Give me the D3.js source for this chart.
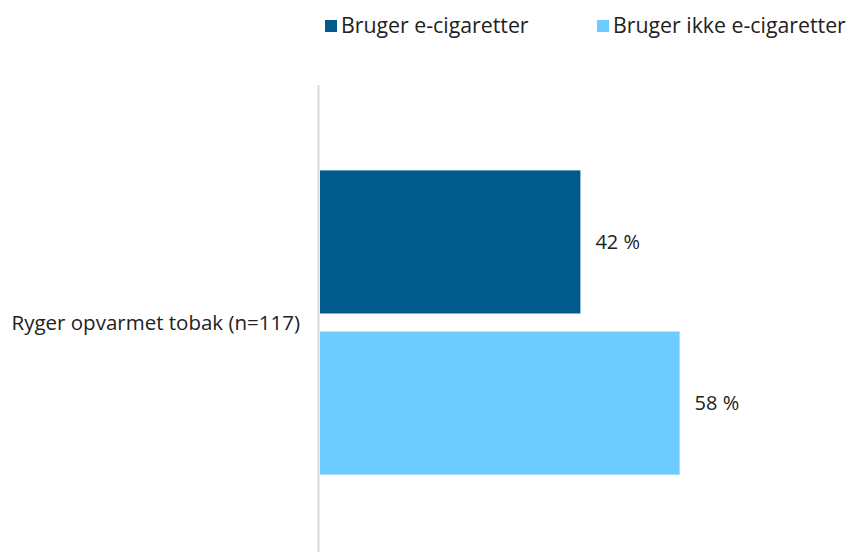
<!DOCTYPE html>
<html><head><meta charset="utf-8">
<script src="https://cdn.jsdelivr.net/npm/d3@7"></script>
<style>body{margin:0;background:#fff}text{font-family:"Open Sans",sans-serif;fill:#222}</style>
</head><body><svg id="c" width="849" height="552"></svg>
<script>
const categories = ["Ryger opvarmet tobak (n=117)"];
const series = ["Bruger e-cigaretter", "Bruger ikke e-cigaretter"];
const values = [[42, 58]];
const valueLabels = [["42 %", "58 %"]];
const colors = ["#005A8C", "#6DCBFF"];

const svg = d3.select("#c");
const x = d3.scaleLinear().domain([0, 100]).range([320, 940]);
const y = d3.scaleBand().domain(categories).range([85, 560]).paddingInner(0);
const sub = d3.scaleBand().domain(series).range([0, y.bandwidth()]).paddingInner(0.1118).paddingOuter(0.53);

svg.append("line").attr("x1", 318.5).attr("x2", 318.5).attr("y1", 85).attr("y2", 552)
  .attr("stroke", "#d9d9d9").attr("stroke-width", 2);

categories.forEach((c, ci) => {
  const g = svg.append("g").attr("transform", `translate(0,${y(c)})`);
  series.forEach((s, si) => {
    const v = values[ci][si];
    g.append("rect").attr("x", x(0)).attr("y", sub(s)).attr("width", x(v) - x(0))
      .attr("height", sub.bandwidth()).attr("fill", colors[si]);
    g.append("text").attr("x", x(v) + 15).attr("y", sub(s) + sub.bandwidth() / 2)
      .attr("dy", "0.35em").attr("font-size", 20).text(valueLabels[ci][si]);
  });
  svg.append("text").attr("x", 300).attr("y", y(c) + sub(series[1]) - 9)
    .attr("dy", "0.35em").attr("text-anchor", "end").attr("font-size", 20.5).text(c);
});

const legX = [325, 597];
series.forEach((s, i) => {
  svg.append("rect").attr("x", legX[i]).attr("y", 20).attr("width", 12).attr("height", 12).attr("fill", colors[i]);
  svg.append("text").attr("x", legX[i] + 16).attr("y", 26).attr("dy", "0.35em").attr("font-size", 21.3).text(s);
});
</script></body></html>
